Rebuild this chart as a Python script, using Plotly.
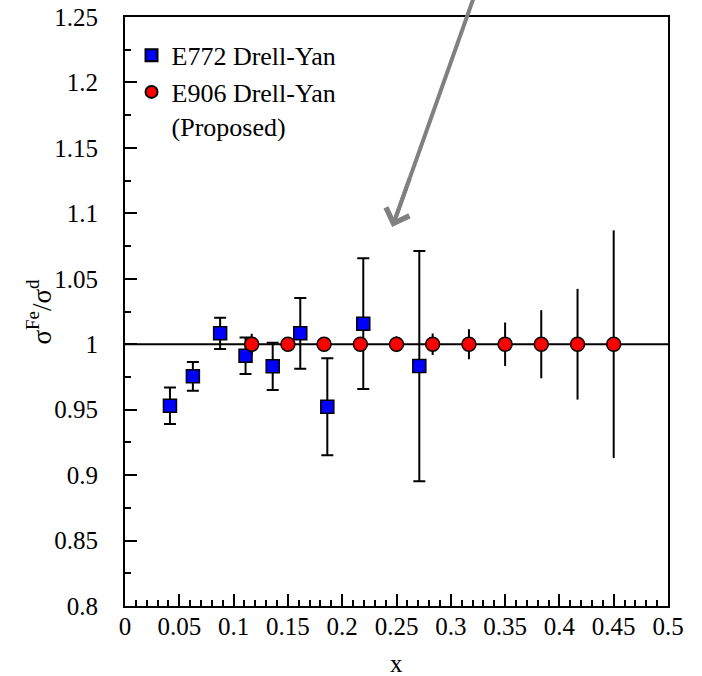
import plotly.graph_objects as go

# E772 Drell-Yan (measured)
e772_x = [0.0414, 0.0625, 0.0876, 0.111, 0.136, 0.1614, 0.1863, 0.2194, 0.271]
e772_y = [0.953, 0.9755, 1.0083, 0.9912, 0.9831, 1.0083, 0.9522, 1.0157, 0.9833]
e772_err = [0.014, 0.011, 0.012, 0.014, 0.018, 0.027, 0.037, 0.050, 0.088]

# E906 Drell-Yan (proposed)
e906_x = [0.1167, 0.15, 0.1833, 0.2167, 0.25, 0.2833, 0.3167, 0.35, 0.3833, 0.4167, 0.45]
e906_y = [1.0, 1.0, 1.0, 1.0, 1.0, 1.0, 1.0, 1.0, 1.0, 1.0, 1.0]
e906_err = [0.008, 0.004, 0.004, 0.004, 0.006, 0.0082, 0.0115, 0.0166, 0.026, 0.0423, 0.087]

x_tickvals = [0, 0.05, 0.1, 0.15, 0.2, 0.25, 0.3, 0.35, 0.4, 0.45, 0.5]
x_ticktext = ["0", "0.05", "0.1", "0.15", "0.2", "0.25", "0.3", "0.35", "0.4", "0.45", "0.5"]
y_tickvals = [0.8, 0.85, 0.9, 0.95, 1.0, 1.05, 1.1, 1.15, 1.2, 1.25]
y_ticktext = ["0.8", "0.85", "0.9", "0.95", "1", "1.05", "1.1", "1.15", "1.2", "1.25"]

FONT = "'Liberation Serif', 'Times New Roman', Times, serif"

fig = go.Figure()
fig.add_trace(go.Scatter(
    x=e772_x, y=e772_y, mode="markers", name="E772 Drell-Yan",
    marker=dict(symbol="square", size=13, color="#0000ff", line=dict(color="black", width=1.5)),
    error_y=dict(type="data", array=e772_err, visible=True, color="black", thickness=2, width=6),
))
fig.add_trace(go.Scatter(
    x=e906_x, y=e906_y, mode="markers", name="E906 Drell-Yan<br>(Proposed)",
    marker=dict(symbol="circle", size=14, color="#ff0000", line=dict(color="black", width=1.5)),
    error_y=dict(type="data", array=e906_err, visible=True, color="black", thickness=2, width=0),
))

fig.add_shape(type="line", xref="paper", x0=0, x1=1, yref="y", y0=1.0, y1=1.0,
              line=dict(color="black", width=2), layer="below")

# grey pointer arrow: shaft (from above the frame) + head
fig.add_shape(type="line", xref="paper", yref="paper",
              x0=0.643, y0=1.035, x1=0.497, y1=0.655,
              line=dict(color="#808080", width=4))
fig.add_annotation(
    x=0.246, y=1.0896, xref="x", yref="y", axref="pixel", ayref="pixel",
    ax=18, ay=-50, showarrow=True, arrowhead=4, arrowsize=1.2, arrowwidth=4,
    arrowcolor="#808080", text="",
)

fig.add_annotation(
    x=0, y=0.5, xref="paper", yref="paper", xanchor="center", yanchor="middle",
    xshift=-86, textangle=-90, showarrow=False,
    text="σ<sup>Fe</sup>/σ<sup>d</sup>", font=dict(family=FONT, size=27, color="black"),
)

fig.add_annotation(
    x=0.5, y=0, xref="paper", yref="paper", xanchor="center", yanchor="middle",
    yshift=-57, showarrow=False,
    text="x", font=dict(family=FONT, size=25, color="black"),
)

fig.update_layout(
    width=702, height=676,
    margin=dict(l=125, r=34, t=17, b=70, autoexpand=False),
    paper_bgcolor="white", plot_bgcolor="white",
    font=dict(family=FONT, size=25, color="black"),
    showlegend=True,
    legend=dict(x=0.012, y=0.975, xanchor="left", yanchor="top", bgcolor="rgba(0,0,0,0)",
                font=dict(family=FONT, size=26, color="black"), itemsizing="constant",
                valign="top", tracegroupgap=0),
)

fig.update_xaxes(
    range=[0, 0.5], showgrid=False, zeroline=False, automargin=False,
    showline=True, linecolor="black", linewidth=2, mirror=True,
    ticks="inside", ticklen=12, tickwidth=2, tickcolor="black",
    tickvals=x_tickvals, ticktext=x_ticktext, ticklabelstandoff=-3,
    tickfont=dict(family=FONT, size=25, color="black"),
    minor=dict(dtick=0.01, ticks="inside", ticklen=6, tickwidth=2, tickcolor="black"),
)
fig.update_yaxes(
    range=[0.8, 1.25], showgrid=False, zeroline=False, automargin=False,
    showline=True, linecolor="black", linewidth=2, mirror=True,
    ticks="inside", ticklen=12, tickwidth=2, tickcolor="black",
    tickvals=y_tickvals, ticktext=y_ticktext,
    tickfont=dict(family=FONT, size=25, color="black"),
    minor=dict(dtick=0.025, tick0=0.8, ticks="inside", ticklen=6, tickwidth=2, tickcolor="black"),
    ticklabelstandoff=20,
)

fig.write_html("out.html")
